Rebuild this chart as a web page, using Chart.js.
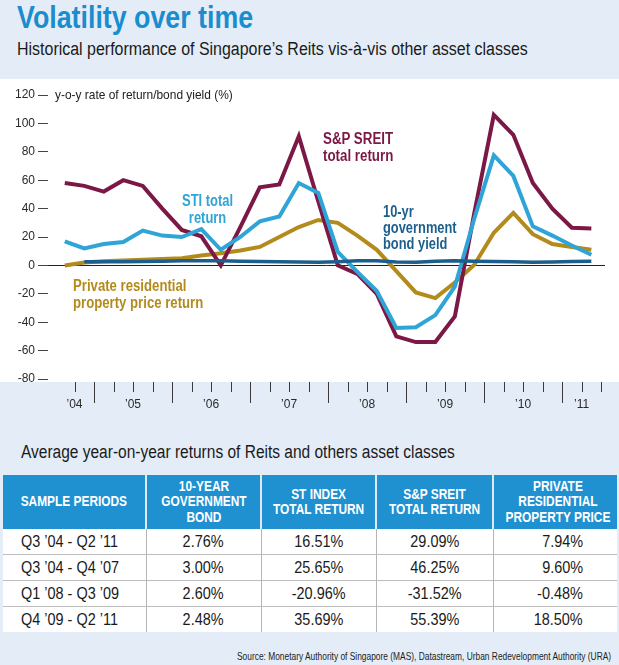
<!DOCTYPE html>
<html><head><meta charset="utf-8">
<script src="https://cdn.jsdelivr.net/npm/chart.js@4.4.0/dist/chart.umd.min.js"></script>
<style>
body{margin:0;width:619px;height:665px;overflow:hidden;background:#e4edf7;position:relative;font-family:"Liberation Sans",Arial,sans-serif;color:#1a1a1a;}
#plotbg{position:absolute;left:0;top:79px;width:619px;height:303px;background:#fff;}
.fit{position:absolute;white-space:nowrap;transform-origin:left center;}
#title{left:17px;top:0;font-size:31px;line-height:36px;font-weight:bold;color:#1b8dcf;}
#subtitle{left:17px;top:38px;font-size:18px;line-height:22px;color:#1a1a1a;}
#chartwrap{position:absolute;left:0;top:80px;width:619px;height:340px;}
.ann{font-weight:bold;font-size:16px;line-height:17px;}
#ytitle{left:55px;top:87px;font-size:13px;line-height:16px;color:#222;}
#ttitle{left:21px;top:441px;font-size:18px;line-height:22px;color:#1a1a1a;}
#tbl{position:absolute;left:3px;top:475px;width:614px;border-collapse:collapse;table-layout:fixed;}
#tbl th{background:#1f91d1;color:#fff;font-weight:bold;font-size:14.5px;line-height:15.5px;height:54px;padding:0;text-align:center;border-left:2px solid #dfeaf6;white-space:nowrap;}
#tbl th:first-child{border-left:none;}
#tbl td{background:#fff;font-size:17px;height:25px;padding:0;text-align:center;border-left:1px solid #b5b5b5;border-top:1px solid #bdbdbd;white-space:nowrap;}
#tbl td:first-child{border-left:none;text-align:left;padding-left:18px;}
#tbl td:last-child{text-align:right;padding-right:34px;}
#tbl tr:nth-child(2) td{border-top:none;}
.sx{display:inline-block;transform-origin:center center;}
th .sx{transform:scaleX(0.82);}
td .sx{transform:scaleX(0.85);}
td:first-child .sx{transform-origin:left center;}
td:last-child .sx{transform-origin:right center;}
#source{left:237px;top:649px;font-size:11px;line-height:14px;color:#222;}
</style></head>
<body>
<div id="plotbg"></div>
<div id="title" class="fit" data-w="236">Volatility over time</div>
<div id="subtitle" class="fit" data-w="511">Historical performance of Singapore’s Reits vis-à-vis other asset classes</div>
<div id="chartwrap"><canvas id="c" width="619" height="340"></canvas></div>
<div id="ytitle" class="fit" data-w="178">y-o-y rate of return/bond yield (%)</div>
<div class="fit ann" data-w="70" style="left:323px;top:130px;color:#7b1846;">S&amp;P SREIT<br>total return</div>
<div class="fit ann" data-w="51" style="left:182px;top:192px;text-align:center;color:#2fa4d7;">STI total<br>return</div>
<div class="fit ann" data-w="74" style="left:383px;top:204px;line-height:16px;color:#1d5f8c;">10-yr<br>government<br>bond yield</div>
<div class="fit ann" data-w="130" style="left:73px;top:277px;color:#b38b1d;">Private residential<br>property price return</div>
<div id="ttitle" class="fit" data-w="434">Average year-on-year returns of Reits and others asset classes</div>
<table id="tbl">
<colgroup><col style="width:143px"><col style="width:115px"><col style="width:115px"><col style="width:117px"><col style="width:124px"></colgroup>
<tbody id="tbody"></tbody>
</table>
<div id="source" class="fit" data-w="374">Source: Monetary Authority of Singapore (MAS), Datastream, Urban Redevelopment Authority (URA)</div>
<script>
// ---- Chart data ----
const quarters = ["Q3 2004","Q4 2004","Q1 2005","Q2 2005","Q3 2005","Q4 2005","Q1 2006","Q2 2006","Q3 2006","Q4 2006","Q1 2007","Q2 2007","Q3 2007","Q4 2007","Q1 2008","Q2 2008","Q3 2008","Q4 2008","Q1 2009","Q2 2009","Q3 2009","Q4 2009","Q1 2010","Q2 2010","Q3 2010","Q4 2010","Q1 2011","Q2 2011"];
const sreitReturn = [58,56,52,60,56,40,25,20.5,0,27,55,57,91,45,0,-6,-20,-50,-54,-54,-36,37,106,92,58,40,26.5,26];
const stiReturn = [17,12,15,16.5,24.5,21,20,25.5,11,20,31,34.5,58,51,9.5,-4.5,-18,-44,-43.5,-35,-15,33,77.5,63,27.5,21,14,7.5];
const propertyReturn = [0,2,3,3.5,4,4.5,5,7,8.5,10.5,13,20,27,32,30,21,11,-4,-19,-23,-12,0.5,23,37,22,15,13,11];
const bondYield = [null,2.6,2.6,2.5,2.7,3.0,3.2,3.3,3.2,3.0,2.8,2.6,2.4,2.3,2.6,3.2,3.2,2.4,2.3,3.0,3.2,3.0,2.8,2.5,2.2,2.4,2.8,3.0];
const yearLabels = ["’04","’05","’06","’07","’08","’09","’10","’11"];
const yTicks = [-80,-60,-40,-20,0,20,40,60,80,100,120];

// ---- Table data ----
const tableHeaders = ["SAMPLE PERIODS","10-YEAR<br>GOVERNMENT<br>BOND","ST INDEX<br>TOTAL RETURN","S&amp;P SREIT<br>TOTAL RETURN","PRIVATE<br>RESIDENTIAL<br>PROPERTY PRICE"];
const samplePeriods = ["Q3 ’04 - Q2 ’11","Q3 ’04 - Q4 ’07","Q1 ’08 - Q3 ’09","Q4 ’09 - Q2 ’11"];
const avgBond = ["2.76%","3.00%","2.60%","2.48%"];
const avgSti = ["16.51%","25.65%","-20.96%","35.69%"];
const avgSreit = ["29.09%","46.25%","-31.52%","55.39%"];
const avgProperty = ["7.94%","9.60%","-0.48%","18.50%"];

// build table
const sp = t => '<span class="sx">' + t + '</span>';
const tb = document.getElementById('tbody');
let html = '<tr>' + tableHeaders.map(h => '<th>' + sp(h) + '</th>').join('') + '</tr>';
samplePeriods.forEach((p, i) => {
  html += '<tr><td>' + sp(p) + '</td><td>' + sp(avgBond[i]) + '</td><td>' + sp(avgSti[i]) + '</td><td>' + sp(avgSreit[i]) + '</td><td>' + sp(avgProperty[i]) + '</td></tr>';
});
tb.innerHTML = html;

// condense text blocks to the reference widths
document.querySelectorAll('.fit').forEach(el => {
  const w = el.scrollWidth;
  el.style.transform = 'scaleX(' + (+el.dataset.w / w).toFixed(3) + ')';
});

// quarter label -> time value (centre of quarter)
const qToX = q => { const [qq, yy] = q.split(' '); return +yy + (+qq[1] - 0.5) / 4; };
const toPts = arr => quarters.map((q, i) => ({x: qToX(q), y: arr[i]}));

const firstX = qToX(quarters[0]) - 0.125;
const lastX = qToX(quarters[quarters.length - 1]) + 0.125;
const firstYear = Math.floor(firstX);
const labelVals = yearLabels.map((_, i) => {
  const y = firstYear + i;
  return (Math.max(y, firstX) + Math.min(y + 1, lastX)) / 2;
});
const boundaries = [];
for (let v = firstX + 0.25; v <= lastX + 1e-9; v += 0.25) boundaries.push(Math.round(v * 4) / 4);

const FONT = '"Liberation Sans",Arial,sans-serif';

const tickPlugin = {
  id: 'quarterTicks',
  afterDraw(chart) {
    const xs = chart.scales.x, ctx = chart.ctx;
    const y0 = chart.chartArea.bottom + 3;
    ctx.save();
    ctx.strokeStyle = '#3a3a3a';
    ctx.lineWidth = 1;
    boundaries.forEach(v => {
      const px = Math.round(xs.getPixelForValue(v)) + 0.5;
      const major = Math.abs(v - Math.round(v)) < 1e-6;
      ctx.beginPath();
      ctx.moveTo(px, y0);
      ctx.lineTo(px, y0 + (major ? 21 : 10));
      ctx.stroke();
    });
    ctx.restore();
  }
};

new Chart(document.getElementById('c'), {
  type: 'line',
  data: {
    datasets: [
      {label: '10-yr government bond yield', data: toPts(bondYield), borderColor: '#1d5f8c', borderWidth: 3.5},
      {label: 'STI total return', data: toPts(stiReturn), borderColor: '#2fa4d7', borderWidth: 4},
      {label: 'S&P SREIT total return', data: toPts(sreitReturn), borderColor: '#7b1846', borderWidth: 4},
      {label: 'Private residential property price return', data: toPts(propertyReturn), borderColor: '#b38b1d', borderWidth: 4}
    ]
  },
  options: {
    responsive: false,
    animation: false,
    devicePixelRatio: 1,
    layout: {padding: {top: 15, right: 14, left: 0, bottom: 0}},
    elements: {point: {radius: 0}, line: {tension: 0, fill: false}},
    plugins: {legend: {display: false}, tooltip: {enabled: false}},
    scales: {
      x: {
        type: 'linear',
        min: 2004.41, max: 2011.55,
        afterBuildTicks: s => { s.ticks = labelVals.map(v => ({value: v})); },
        afterFit: s => { s.height = 41; },
        grid: {display: false, drawTicks: false},
        border: {display: false},
        ticks: {
          autoSkip: false, maxRotation: 0, padding: 18,
          color: '#2a2a2a', font: {family: FONT, size: 12},
          callback: (v, i) => yearLabels[i]
        }
      },
      y: {
        min: -80, max: 120,
        afterBuildTicks: s => { s.ticks = yTicks.map(v => ({value: v})); },
        afterFit: s => { s.width = 48; },
        border: {display: false},
        grid: {
          drawOnChartArea: true, drawTicks: true, tickLength: 10,
          color: c => c.tick && c.tick.value === 0 ? '#222' : 'rgba(0,0,0,0)',
          tickColor: '#444', lineWidth: 1
        },
        ticks: {padding: 3, color: '#2a2a2a', font: {family: FONT, size: 12}}
      }
    }
  },
  plugins: [tickPlugin]
});
</script>
</body></html>
